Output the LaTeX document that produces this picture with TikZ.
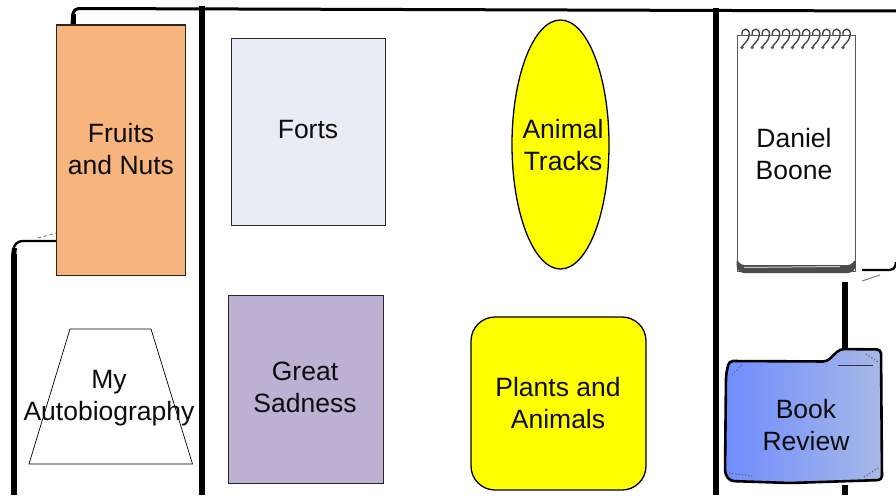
\documentclass[tikz,border=0pt]{standalone}
\usepackage{fontspec}
\setmainfont{Liberation Sans}
\usetikzlibrary{shapes.geometric}
\definecolor{fruit}{HTML}{F7B57D}
\definecolor{fort}{HTML}{E8ECF5}
\definecolor{sad}{HTML}{BDB0D2}
\definecolor{folderL}{HTML}{6F8DFF}
\definecolor{folderR}{HTML}{A6B9E6}
\definecolor{pureyellow}{RGB}{255,255,0}
\tikzset{
  x=1pt,y=-1pt,
  lbl/.style={align=center,font=\fontsize{26.5}{32}\selectfont,text=black!95,inner sep=0pt},
  box/.style={draw=black!85,line width=1.4pt,rectangle,inner sep=0pt,anchor=north west},
  wire/.style={draw=black,line cap=butt},
}
\begin{document}
\begin{tikzpicture}
\useasboundingbox (0,0) rectangle (896,495);
\fill[white] (0,0) rectangle (896,495);
% free ends
\coordinate (topA) at (73.5,24);
\coordinate (topB) at (73.5,8.5);
\coordinate (topC) at (896,11);
\coordinate (d1a) at (202,6);
\coordinate (d1b) at (202,495);
\coordinate (d2a) at (716,8);
\coordinate (d2b) at (716,495);
\coordinate (lowA) at (13.5,495);
\coordinate (lowB) at (13.5,241);
\coordinate (lowC) at (56,241);
\coordinate (rA) at (862,270);
\coordinate (rB) at (895,270);
\coordinate (rC) at (896,262);
\coordinate (vA) at (845,282);
\coordinate (vB) at (845,360);
\coordinate (vC) at (845,485);
\coordinate (vD) at (845,495);
% connectors
\draw[wire,line width=5.5pt] (topA) -- (73.5,14);
\draw[wire,line width=3pt,rounded corners=5pt] (72,24) -- (topB) -- (topC);
\draw[wire,line width=6pt] (d1a) -- (d1b);
\draw[wire,line width=5.5pt] (d2a) -- (d2b);
\draw[wire,line width=6pt] (lowA) -- (13.5,254);
\draw[wire,line width=2.4pt,rounded corners=9pt] (13.5,262) -- (lowB) -- (lowC);
\draw[wire,line width=5pt] (13.5,256) -- (14.5,248);
\draw[gray,line width=1pt,dashed] (38,238) -- (56,233);
\draw[wire,line width=2.4pt,rounded corners=5pt] (rA) -- (rB) -- (rC);
\draw[gray,line width=1pt] (862,281) -- (880,275);
\draw[wire,line width=6pt] (vA) -- (vB);
\draw[wire,line width=6pt] (vC) -- (vD);
% left column
\node[box,fill=fruit,minimum width=129pt,minimum height=250.5pt] (fruits) at (56,24.5) {};
\node[lbl] (fruitsT) at (121,149) {Fruits\\and Nuts};
\draw[black,line width=0.7pt] (70,329) -- (151,329) -- (192.5,464) -- (29,464) -- cycle;
\node[lbl] (autoT) at (109,398.5) {My\\Autobiography};
% middle
\node[box,fill=fort,minimum width=154.5pt,minimum height=186.5pt] (forts) at (230.5,38) {};
\node[lbl] (fortsT) at (308,130) {Forts};
\node[box,fill=sad,minimum width=155pt,minimum height=187.5pt] (sadness) at (227.5,295) {};
\node[lbl] (sadT) at (305,387) {Great\\Sadness};
\node[draw=black,line width=1.3pt,fill=pureyellow,ellipse,minimum width=97pt,minimum height=249pt,inner sep=0pt] (tracks) at (560.5,144.5) {};
\node[lbl] (tracksT) at (563,145) {Animal\\Tracks};
\node[draw=black,line width=1.3pt,fill=pureyellow,rectangle,rounded corners=24pt,minimum width=175pt,minimum height=173pt,inner sep=0pt] (plants) at (558.5,403.5) {};
\node[lbl] (plantsT) at (558,403) {Plants and\\Animals};
% notebook
\node[draw=black!65,line width=1pt,fill=white,rectangle,minimum width=118pt,minimum height=236pt,inner sep=0pt,anchor=north west] (note) at (737,35) {};
\fill[black!70,rounded corners=3pt] (736.5,259) -- (736.5,268) -- (741,273) -- (851,273) -- (856,268) -- (855.5,259) -- (851,265) -- (741,265) -- cycle;
\draw[white!60!gray,line width=1pt] (744,267.5) -- (840,266.5);
\foreach \i in {0,...,10}{
  \pgfmathsetmacro{\xx}{742+\i*10.1}
  \draw[black!75,line width=1.3pt] (\xx,35) .. controls (\xx-1,27) and (\xx+9,27) .. (\xx+7,36) .. controls (\xx+6,42) and (\xx+2,43) .. (\xx,47);
  \fill[black!65] (\xx,47.5) circle (1.8pt);
}
\node[lbl] (noteT) at (794,154) {Daniel\\Boone};
% folder
\shade[left color=folderL,right color=folderR,draw=black,line width=2.6pt,rounded corners=4pt]
  (726,375) -- (729,361) -- (827,361.5) -- (840,349) -- (881,349.5) -- (882,480) -- (790,483) -- (730,481) -- (725,474) -- cycle;
\draw[black!80,line width=0.8pt] (838,365) -- (873,365);
\draw[black!60,line width=1.2pt,dotted] (732,375) -- (742,365);
\draw[black!60,line width=1.2pt,dotted] (866,354) -- (878,362);
\draw[black!60,line width=1.2pt,dotted] (729,473) -- (752,476);
\draw[black!60,line width=1.2pt,dotted] (864,477) -- (878,468);
\node[lbl] (folderT) at (806,425) {Book\\Review};
\end{tikzpicture}
\end{document}
